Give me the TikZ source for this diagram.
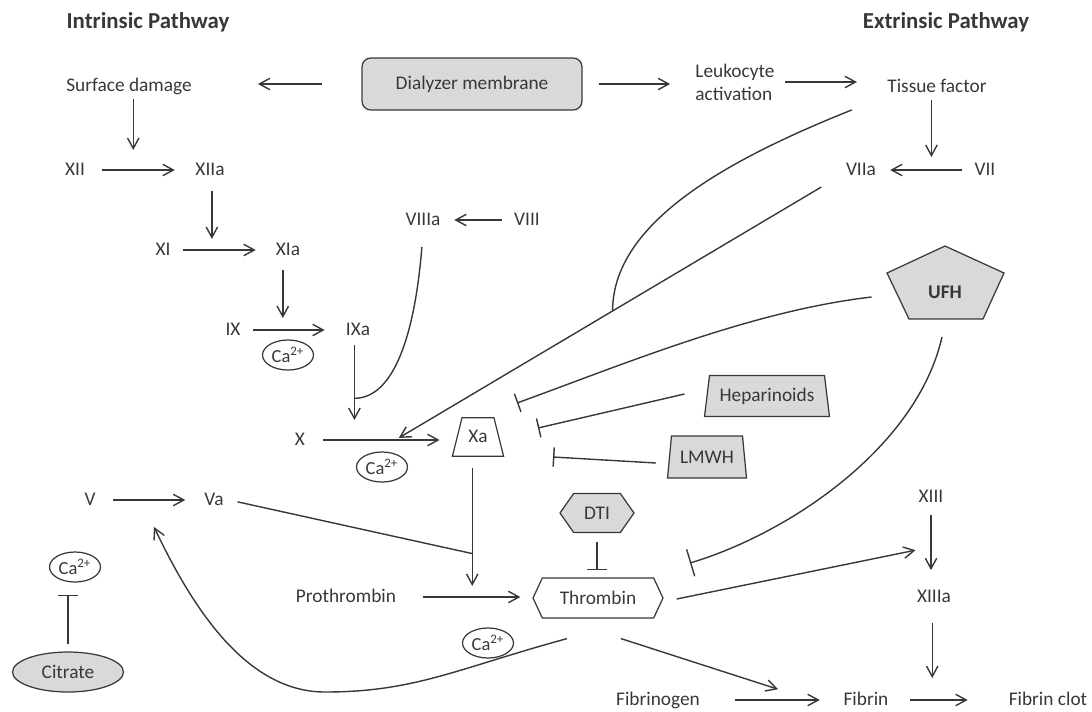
\documentclass[tikz,border=0pt]{standalone}
\usepackage{fontspec}
\setmainfont{Carlito}
\usetikzlibrary{arrows.meta,shapes.geometric,shapes.symbols}

\definecolor{ink}{HTML}{383838}
\definecolor{druggray}{HTML}{D9D9D9}

\tikzset{
	lbl/.style={text=ink, font=\fontsize{11}{13}\selectfont, inner sep=3pt},
	fac/.style={lbl, text height=1.5ex, text depth=.25ex},
	head/.style={text=ink, font=\fontsize{13}{15}\selectfont\bfseries},
	ln/.style={draw=ink, line width=0.8pt},
	act/.style={ln, -{Straight Barb[length=6pt, width=6.5pt]}},
	inh/.style={ln, -{Bar[width=11pt]}},
	ion/.style={lbl, ellipse, draw=ink, line width=0.7pt, inner sep=0pt, minimum width=1.02cm, minimum height=0.6cm, font=\fontsize{10.5}{12}\selectfont},
	drug/.style={lbl, draw=ink, line width=0.7pt, fill=druggray},
	trap/.style={trapezium, trapezium left angle=76, trapezium right angle=76, trapezium stretches body, inner sep=1pt},
	hexa/.style={signal, signal to=west and east, inner sep=1pt},
}

\begin{document}
\begin{tikzpicture}[x=0.02cm, y=-0.02cm]
\useasboundingbox (0,0) rectangle (1092,711);

% headings
\node[head] (intr) at (148,22) {Intrinsic Pathway};
\node[head] (extr) at (946,22) {Extrinsic Pathway};

% trigger row
\node[fac] (surf) at (129,86) {Surface damage};
\node[drug, rounded corners=5pt, minimum width=4.4cm, minimum height=1.04cm] (dial) at (472,84) {Dialyzer membrane};
\node[lbl, align=left] (leuk) at (735,82) {Leukocyte\\activation};
\node[fac] (tf) at (937,87) {Tissue factor};

% intrinsic cascade
\node[fac] (f12) at (75,170) {XII};
\node[fac] (f12a) at (210,170) {XIIa};
\node[fac] (f11) at (163,250) {XI};
\node[fac] (f11a) at (288,250) {XIa};
\node[fac] (f9) at (233,330) {IX};
\node[fac] (f9a) at (358,330) {IXa};
\node[ion] (ca1) at (288,355) {Ca\textsuperscript{2+}};
\node[fac] (f8a) at (423,220) {VIIIa};
\node[fac] (f8) at (527,220) {VIII};

% extrinsic cascade
\node[fac] (f7a) at (861,170) {VIIa};
\node[fac] (f7) at (985,170) {VII};

% common pathway
\node[fac] (f10) at (300,440) {X};
\node[fac, trapezium, trapezium left angle=76, trapezium right angle=76, draw=ink, line width=0.7pt, inner xsep=3.6pt, inner ysep=6.8pt] (f10a) at (478,437) {Xa};
\node[ion] (ca2) at (382,467) {Ca\textsuperscript{2+}};
\node[fac] (f5) at (90,500) {V};
\node[fac] (f5a) at (214,500) {Va};
\node[fac] (prot) at (346,597) {Prothrombin};
\node[hexa, lbl, inner sep=1pt, draw=ink, line width=0.7pt, signal pointer angle=130, minimum width=2.6cm, minimum height=0.8cm] (thr) at (598,598) {Thrombin};
\node[ion] (ca4) at (488,643) {Ca\textsuperscript{2+}};
\node[fac] (f13) at (931,497) {XIII};
\node[fac] (f13a) at (934,597) {XIIIa};
\node[fac] (fbg) at (658,700) {Fibrinogen};
\node[fac] (fib) at (866,700) {Fibrin};
\node[fac] (clot) at (1048,700) {Fibrin clot};

% anticoagulants
\draw[ln, line width=0.7pt, fill=druggray] (945,246) -- (1004,273) -- (983,319) -- (909,319) -- (887,273) -- cycle;
\node[lbl, font=\fontsize{11}{13}\selectfont\bfseries] (ufh) at (945,292) {UFH};
\node[drug, trap, minimum width=2.5cm, minimum height=0.82cm] (hep) at (767,396) {Heparinoids};
\node[drug, trap, minimum width=1.58cm, minimum height=0.84cm] (lmwh) at (707,457) {LMWH};
\node[drug, hexa, signal pointer angle=110, minimum width=1.48cm, minimum height=0.78cm] (dti) at (597,513) {DTI};
\node[ion] (ca3) at (75,567) {Ca\textsuperscript{2+}};
\node[drug, ellipse, minimum width=2.22cm, minimum height=0.8cm] (citr) at (68,672) {Citrate};

% free ends of the inhibitions
\coordinate (bx1) at (517,403);
\coordinate (bx2) at (538,428);
\coordinate (bx3) at (553,457);
\coordinate (bth) at (690,563);

% top row
\draw[act, shorten <=22.2pt, shorten >=34.5pt] (dial.west) -- (dial.west -| surf.east);
\draw[act, shorten <=9.1pt, shorten >=11.2pt] (dial.east) -- (dial.east -| leuk.west);
\draw[act, shorten <=2.7pt, shorten >=14.1pt] (leuk.east) -- (leuk.east -| tf.west);

% intrinsic
\draw[act, shorten <=6.7pt, shorten >=8.6pt] (f12) -- coordinate[pos=0.43] (m12) (f12a);
\draw[act, shorten <=4pt, shorten >=8.3pt] (f11) -- coordinate[pos=0.38] (m11) (f11a);
\draw[act, shorten <=4pt, shorten >=8.9pt] (f9) -- coordinate[pos=0.39] (m9) (f9a);
\draw[act, shorten >=11.4pt] (surf.south -| m12) -- (m12);
\draw[act, shorten <=4.4pt, shorten >=6.3pt] (f12a.south -| m11) -- (m11);
\draw[act, shorten <=3.9pt, shorten >=6.8pt] (f11a.south -| m9) -- (m9);
\draw[act, shorten <=3.9pt, shorten >=4.7pt] (f8) -- (f8a);

% X to Xa
\draw[act, shorten <=7.2pt, shorten >=9.7pt] (f10.east) -- coordinate[pos=0.30] (m10) coordinate[pos=0.58] (m10b) (f10.east -| f10a.west);
\draw[act, shorten <=1pt, shorten >=11.4pt] (f9a.south -| m10) -- coordinate[pos=0.57] (j10) (m10);
\draw[ln, shorten <=8pt] (f8a.south) .. controls +(-8,100) and +(40,0) .. (j10);

% extrinsic
\draw[act, shorten <=4pt, shorten >=4.9pt] (f7) -- coordinate[pos=0.43] (m7) (f7a);
\draw[act, shorten >=7.4pt] (tf.south -| m7) -- (m7);
\draw[act, shorten >=2.3pt] (f7a.south west) ++(-19,4) -- coordinate[pos=0.49] (j7) (m10b);
\draw[ln] (tf.south west) ++(-30,10) .. controls +(-120,48) and +(0,-90) .. (j7);

% prothrombin to thrombin
\draw[act, shorten <=6.9pt, shorten >=7.7pt] (f5) -- coordinate[pos=0.41] (m5) (f5a);
\draw[act, shorten <=12pt, shorten >=6.8pt] (prot.east) -- coordinate[pos=0.54] (mpt) (prot.east -| thr.west);
\draw[act, shorten <=6.3pt, shorten >=6.3pt] (f10a.south -| mpt) -- coordinate[pos=0.69] (jva) (mpt);
\draw[ln, shorten <=4.9pt] (f5a.east) -- (jva);

% fibrin
\draw[act, shorten <=2.7pt, shorten >=7.9pt] (f13.south) -- coordinate[pos=0.5] (m13) (f13.south |- f13a.north);
\draw[act, shorten <=17pt, shorten >=10.4pt] (fbg) -- coordinate[pos=0.8] (mfg) (fib);
\draw[act, shorten <=9.3pt, shorten >=20.2pt] (fib) -- coordinate[pos=0.35] (mfc) (clot);
\draw[act, shorten <=7.3pt, shorten >=12.5pt] (f13a.south -| mfc) -- (mfc);
\draw[act, shorten >=9pt] (thr.east) ++(13,1) -- (m13);
\draw[act, shorten >=20pt] (thr.south) ++(23,20) -- (mfg);
\draw[act, shorten >=17pt] (thr.south) ++(-31,20) .. controls +(-110,30) and +(90,0) .. (325,692) .. controls +(-80,0) and +(50,105) .. (m5);

% anticoagulants
\draw[inh] (ufh.west) ++(-51,5) .. controls +(-120,14) and +(110,-40) .. (bx1);
\draw[inh] (hep.west) ++(-22,-2) -- (bx2);
\draw[inh] (lmwh.west) ++(-13,6) -- (bx3);
\draw[inh, shorten <=5.1pt, shorten >=4pt] (dti.south) -- (dti.south |- thr.north);
\draw[inh, -{Bar[width=16pt]}] (ufh.south) ++(-3,33) .. controls +(-25,110) and +(100,-30) .. (bth);
\draw[inh, shorten <=4pt, shorten >=6.8pt] (citr.north) -- (citr.north |- ca3.south);

\end{tikzpicture}
\end{document}
